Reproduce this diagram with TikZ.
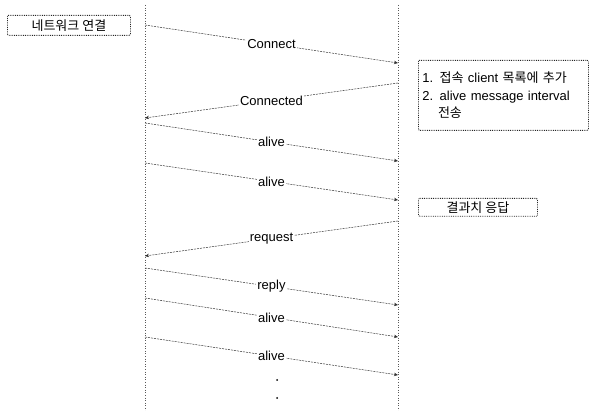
\documentclass[tikz,border=0pt]{standalone}
\usepackage{fontspec}
\setmainfont{Liberation Sans}
\newfontfamily\kr{Noto Sans CJK KR}
\usetikzlibrary{arrows.meta}
\begin{document}
\begin{tikzpicture}[x=1pt,y=-1pt,
  every node/.style={font=\fontsize{13}{17.5}\selectfont},
  lifeline/.style={draw=black!65, line width=0.6pt, dotted},
  msg/.style={draw=black!80, line width=0.5pt, dash pattern=on 2pt off 1pt, -{Stealth[length=4pt,width=3.5pt]}},
  lbl/.style={fill=white, inner sep=1pt, midway},
  note/.style={draw=black!85, line width=0.8pt, densely dotted, rounded corners=1pt, align=left, inner sep=3pt}
]
\useasboundingbox (0,0) rectangle (592,411);
% lifelines
\coordinate (lt) at (145,5); \coordinate (lb) at (145,411);
\coordinate (rt) at (398,5); \coordinate (rb) at (398,411);
\draw[lifeline] (lt) -- (lb);
\draw[lifeline] (rt) -- (rb);
% boxes
\node[note, minimum width=123pt, minimum height=20pt, anchor=north west] (b1) at (7,15) {\kr 네트워크 연결};
\node[note, text width=162pt, minimum height=70pt, anchor=north west, inner sep=4pt] (b2) at (418,60) {1. {\kr 접속} client {\kr 목록에 추가}\\2. alive message interval\\\hspace*{1.2em}{\kr 전송}};
\node[note, minimum width=119pt, minimum height=16pt, anchor=north west] (b3) at (418,198) {\kr 결과치 응답};
% message endpoints
\coordinate (a1) at (145,25);  \coordinate (a2) at (398,63);
\coordinate (c1) at (398,83);  \coordinate (c2) at (145,118);
\coordinate (d1) at (145,123); \coordinate (d2) at (398,161);
\coordinate (e1) at (145,163); \coordinate (e2) at (398,200);
\coordinate (f1) at (398,221); \coordinate (f2) at (145,256);
\coordinate (g1) at (145,268); \coordinate (g2) at (398,305);
\coordinate (h1) at (145,298); \coordinate (h2) at (398,337);
\coordinate (i1) at (145,337); \coordinate (i2) at (398,375);
\draw[msg] (a1) -- node[lbl] (m1) {Connect} (a2);
\draw[msg] (c1) -- node[lbl] (m2) {Connected} (c2);
\draw[msg] (d1) -- node[lbl] (m3) {alive} (d2);
\draw[msg] (e1) -- node[lbl] (m4) {alive} (e2);
\draw[msg] (f1) -- node[lbl] (m5) {request} (f2);
\draw[msg] (g1) -- node[lbl] (m6) {reply} (g2);
\draw[msg] (h1) -- node[lbl] (m7) {alive} (h2);
\draw[msg] (i1) -- node[lbl] (m8) {alive} (i2);
% continuation dots
\fill (277,380) circle (1pt);
\fill (277,398) circle (1pt);
\end{tikzpicture}
\end{document}
